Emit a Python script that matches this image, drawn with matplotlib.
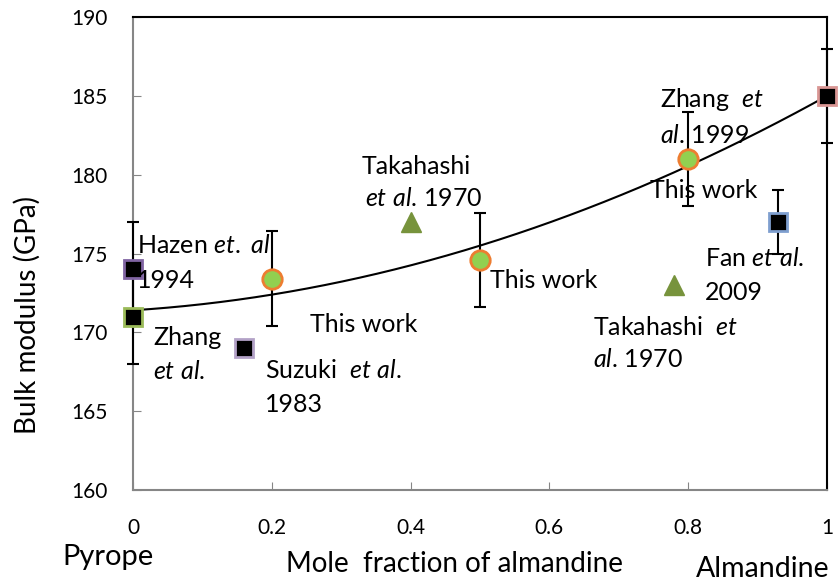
import numpy as np
import matplotlib
matplotlib.use("Agg")
import matplotlib.pyplot as plt

plt.rcParams['font.family'] = ['Lato', 'DejaVu Sans']
plt.rcParams['mathtext.fontset'] = 'custom'
plt.rcParams['mathtext.rm'] = 'Lato'
plt.rcParams['mathtext.it'] = 'Lato:italic'

# "This work" points
this_x = [0.2, 0.5, 0.8]
this_y = [173.4, 174.6, 181.0]
this_err = [3, 3, 3]

# literature values (squares)
lit_names = ["Hazen", "Zhang", "Suzuki", "Fan", "Almandine"]
lit_x = [0.0, 0.0, 0.16, 0.93, 1.0]
lit_y = [174.0, 171.0, 169.0, 177.0, 185.0]
lit_err = [3, 3, 0, 2, 3]
lit_edge = ["#8064a2", "#9bbb59", "#b3a2c7", "#7f9fcf", "#d99694"]

# Takahashi 1970 (triangles)
tak_x = [0.4, 0.78]
tak_y = [177.0, 173.0]

# quadratic fit coefficients (c2, c1, c0)
fit_coef = [10.8, 2.8, 171.4]

fig = plt.figure(figsize=(8.38, 5.81), dpi=100)
ax = fig.add_axes([0.1587, 0.1566, 0.9869 - 0.1587, 0.9707 - 0.1566])

xs = np.linspace(0, 1, 200)
ax.plot(xs, np.polyval(fit_coef, xs), color="black", lw=1.5, zorder=2)

# error bars
for x, y, e in zip(lit_x, lit_y, lit_err):
    if e > 0:
        ax.errorbar(x, y, yerr=e, fmt="none", ecolor="black", elinewidth=1.5,
                    capsize=4, capthick=1.5, zorder=3, clip_on=False)
ax.errorbar(this_x, this_y, yerr=this_err, fmt="none", ecolor="black",
            elinewidth=1.5, capsize=4, capthick=1.5, zorder=3)

for x, y, ec in zip(lit_x, lit_y, lit_edge):
    ax.plot(x, y, marker="s", ms=13, mfc="black", mec=ec, mew=2,
            ls="none", zorder=5, clip_on=False)

ax.plot(this_x, this_y, marker="o", ms=14, mfc="#92d050", mec="#ed7d31",
        mew=2, ls="none", zorder=5)
ax.plot(tak_x, tak_y, marker="^", ms=14, mfc="#77933c", mec="#77933c",
        ls="none", zorder=5)

ax.set_xlim(0, 1)
ax.set_ylim(160, 190)
ax.set_xticks([0, 0.2, 0.4, 0.6, 0.8, 1])
ax.set_xticklabels(["0", "0.2", "0.4", "0.6", "0.8", "1"])
ax.set_yticks([160, 165, 170, 175, 180, 185, 190])
ax.tick_params(direction="in", length=6, color="#868686", labelsize=15)
ax.tick_params(axis="x", pad=20)
ax.tick_params(axis="y", pad=18)
ax.spines["left"].set_color("#868686")
ax.spines["bottom"].set_color("#868686")
ax.spines["left"].set_linewidth(1.5)
ax.spines["bottom"].set_linewidth(1.5)
ax.spines["top"].set_color("black")
ax.spines["right"].set_color("black")
ax.spines["top"].set_linewidth(1.5)
ax.spines["right"].set_linewidth(1.5)

# annotations (left x, centre y, in data units)
fs = 18
notes = [
    (0.006, 175.5, r"Hazen $et.\ al$"),
    (0.006, 173.3, "1994"),
    (0.029, 169.7, "Zhang"),
    (0.029, 167.5, r"$et\ al$."),
    (0.19, 167.6, r"Suzuki  $et\ al$."),
    (0.19, 165.4, "1983"),
    (0.255, 170.5, "This work"),
    (0.33, 180.5, "Takahashi"),
    (0.335, 178.5, r"$et\ al$. 1970"),
    (0.514, 173.3, "This work"),
    (0.759, 184.75, r"Zhang  $et$"),
    (0.759, 182.5, r"$al$. 1999"),
    (0.745, 179.0, "This work"),
    (0.824, 174.7, r"Fan $et\ al$."),
    (0.824, 172.5, "2009"),
    (0.663, 170.3, r"Takahashi  $et$"),
    (0.663, 168.25, r"$al$. 1970"),
]
for x, y, t in notes:
    ax.text(x, y, t, fontsize=fs, ha="left", va="center", zorder=6)

fig.text(0.032, 0.458, "Bulk modulus (GPa)", fontsize=20, rotation=90,
         ha="center", va="center")
fig.text(0.542, 0.029, "Mole  fraction of almandine", fontsize=20,
         ha="center", va="center")
fig.text(0.074, 0.042, "Pyrope", fontsize=21, ha="left", va="center")
fig.text(0.83, 0.021, "Almandine", fontsize=20.5, ha="left", va="center")

fig.savefig("out.png", dpi=100)
